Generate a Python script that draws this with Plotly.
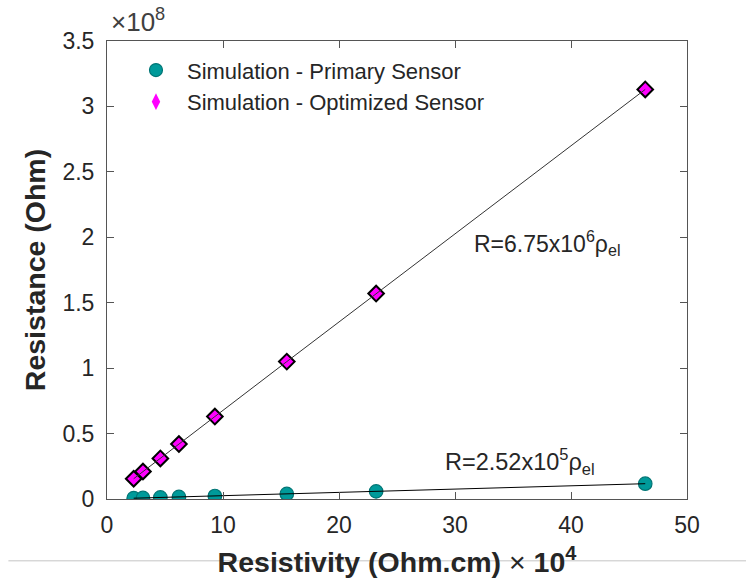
import plotly.graph_objects as go

# Resistivity (x 10^4 Ohm.cm)
resistivity = [2.3, 3.1, 4.6, 6.2, 9.3, 15.5, 23.2, 46.4]
# Resistance (x 10^8 Ohm)
primary_R = [0.006, 0.008, 0.012, 0.016, 0.023, 0.039, 0.058, 0.117]
optimized_R = [0.155, 0.21, 0.31, 0.42, 0.63, 1.05, 1.57, 3.13]

x_ticks = [0, 10, 20, 30, 40, 50]
y_ticks = [0, 0.5, 1, 1.5, 2, 2.5, 3, 3.5]
y_ticktext = ["0", "0.5", "1", "1.5", "2", "2.5", "3", "3.5"]

legend_names = ["Simulation - Primary Sensor", "Simulation - Optimized Sensor"]
fit_labels = ["R=2.52x10<sup>5</sup>ρ<sub>el</sub>", "R=6.75x10<sup>6</sup>ρ<sub>el</sub>"]

FONT = "Liberation Sans, Arial, Helvetica, sans-serif"
TEAL = "#009a9a"
TEAL_EDGE = "#007575"
MAGENTA = "#ff00ff"
TXT = "#262626"

fig = go.Figure()

# data markers
fig.add_trace(go.Scatter(x=resistivity, y=primary_R, mode="markers", showlegend=False,
                         marker=dict(symbol="circle", size=13.5, color=TEAL,
                                     line=dict(color=TEAL_EDGE, width=1.2))))
fig.add_trace(go.Scatter(x=resistivity, y=optimized_R, mode="markers", showlegend=False,
                         marker=dict(symbol="diamond", size=12, color=MAGENTA,
                                     line=dict(color="black", width=2))))
# fit lines (on top of markers)
fig.add_trace(go.Scatter(x=resistivity, y=primary_R, mode="lines", showlegend=False,
                         line=dict(color="black", width=1)))
fig.add_trace(go.Scatter(x=resistivity, y=optimized_R, mode="lines", showlegend=False,
                         line=dict(color="#333333", width=1)))

# legend entries
fig.add_trace(go.Scatter(x=[None], y=[None], mode="markers", name=legend_names[0],
                         marker=dict(symbol="circle", size=13, color=TEAL,
                                     line=dict(color=TEAL_EDGE, width=1.2))))
fig.add_trace(go.Scatter(x=[None], y=[None], mode="markers", name=legend_names[1],
                         marker=dict(symbol="diamond-tall", size=12, color=MAGENTA,
                                     line=dict(width=0))))

axis_common = dict(showline=True, linecolor="#555555", linewidth=1, mirror="ticks",
                   ticks="inside", ticklen=7, tickcolor="#555555", showgrid=False,
                   zeroline=False, automargin=False,
                   tickfont=dict(family=FONT, size=23, color=TXT))

fig.update_layout(
    width=746, height=583,
    margin=dict(l=107, r=59, t=41, b=84),
    paper_bgcolor="white", plot_bgcolor="white",
    font=dict(family=FONT, color=TXT),
    xaxis=dict(range=[0, 50], tickvals=x_ticks, ticklabelstandoff=5, **axis_common,
               title=dict(text="<b>Resistivity (Ohm.cm)</b> × <b>10<sup>4</sup></b>",
                          font=dict(family=FONT, size=28.5, color=TXT), standoff=15)),
    yaxis=dict(range=[0, 3.5], tickvals=y_ticks, ticktext=y_ticktext, ticklabelstandoff=7,
               **axis_common,
               title=dict(text="<b>Resistance (Ohm)</b>",
                          font=dict(family=FONT, size=28.5, color=TXT), standoff=8)),
    legend=dict(x=0.031, y=0.982, xanchor="left", yanchor="top", bgcolor="rgba(0,0,0,0)",
                font=dict(family=FONT, size=22, color=TXT), itemwidth=52,
                itemsizing="trace"),
    annotations=[
        dict(text="×10<sup>8</sup>", xref="paper", yref="paper", x=0.004, y=1.0,
             xanchor="left", yanchor="bottom", showarrow=False, yshift=2,
             font=dict(family=FONT, size=26, color="#404040")),
        dict(text=fit_labels[0], xref="x", yref="y", x=29.0, y=0.29, xanchor="left",
             yanchor="middle", showarrow=False, font=dict(family=FONT, size=23.5, color=TXT)),
        dict(text=fit_labels[1], xref="x", yref="y", x=31.5, y=1.96, xanchor="left",
             yanchor="middle", showarrow=False, font=dict(family=FONT, size=23, color=TXT)),
    ],
    shapes=[dict(type="line", xref="paper", yref="paper", x0=-0.17, x1=1.11,
                 y0=-0.135, y1=-0.135, line=dict(color="#c4c4c4", width=1), layer="below")],
)

fig.write_html("out.html")
